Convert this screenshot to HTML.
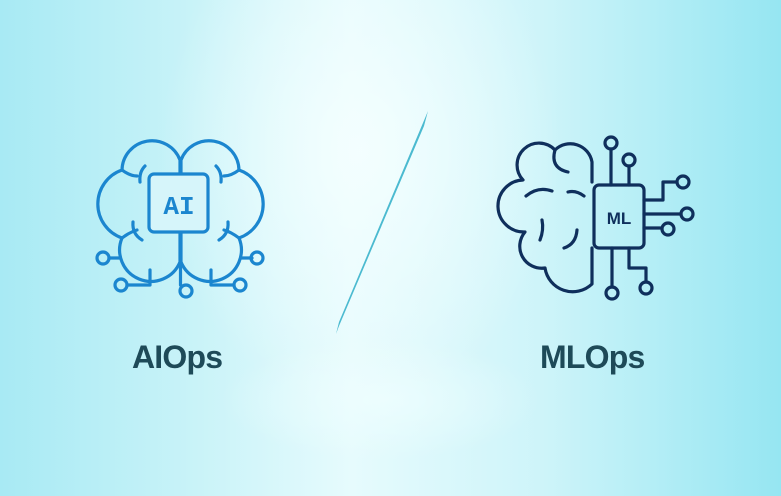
<!DOCTYPE html>
<html><head><meta charset="utf-8"><style>
html,body{margin:0;padding:0}
body{width:781px;height:496px;overflow:hidden;position:relative;
background:
radial-gradient(ellipse 200px 260px at 360px 150px,rgba(245,255,255,0.9) 0%,rgba(245,255,255,0) 100%),
radial-gradient(ellipse 160px 60px at 380px 400px,rgba(240,255,255,0.7) 0%,rgba(240,255,255,0) 100%),
linear-gradient(90deg,#a8eaf4 0%,#c9f3f8 25%,#e6fbfd 45%,#cdf4f9 70%,#96e6f2 100%);}
.lbl{position:absolute;top:339px;font:bold 32px "Liberation Sans",sans-serif;color:#1e4a58;letter-spacing:-0.8px}
</style></head><body>
<svg width="781" height="496" style="position:absolute;left:0;top:0">
<polygon points="428,111 424,126 339,326 336,334 339,322" fill="#4bbad0"/>
<!-- AI icon -->
<g fill="none" stroke="#1b86cf" stroke-width="3.2" stroke-linecap="round" stroke-linejoin="round">
<g id="half">
<path d="M180,262 A30,30 0 0 1 122,238 A36,36 0 0 1 122,170 A30,30 0 0 1 180,160 V262"/>
<path d="M145,166 Q139,172 140,182"/>
<path d="M122,170 Q130,176 137,176"/>
<path d="M122,238 Q130,232 137,230"/>
<path d="M133,222 Q132,234 142,240"/>
<path d="M120,258 H109"/>
<path d="M150,270 V285 H127"/>
</g>
<use href="#half" transform="translate(361,0) scale(-1,1)"/>
<path d="M180.5,262 V285"/>
<circle cx="103" cy="258" r="6"/><circle cx="121" cy="285" r="6"/>
<circle cx="186" cy="291" r="6"/><circle cx="240" cy="285" r="6"/><circle cx="257" cy="258" r="6"/>
<rect x="149" y="174" width="59" height="58" rx="5" fill="#d6f5fa"/>
</g>
<text x="179" y="214" text-anchor="middle" font-family="Liberation Mono,monospace" font-size="26" fill="#1b86cf" font-weight="bold">AI</text>
<!-- ML icon -->
<g fill="none" stroke="#0f2f5c" stroke-width="3.2" stroke-linecap="round" stroke-linejoin="round">
<path d="M592,182 V162 A22,22 0 0 0 555,150 A20,20 0 0 0 523,180 A24,24 0 0 0 525,232 A22,22 0 0 0 545,268 A28,28 0 0 0 592,284 V248"/>
<path d="M555,150 Q550,168 568,172"/>
<path d="M526,196 Q538,186 552,191"/>
<path d="M584,196 Q576,190 568,192"/>
<path d="M542,220 Q544,230 540,240"/>
<path d="M577,230 Q576,244 564,248"/>
<rect x="594" y="185" width="50" height="63" rx="5"/>
<path d="M611,149 V185 M629,166 V185"/>
<path d="M644,200 H663 V182 H677 M644,214 H681 M644,228 H662"/>
<path d="M612,248 V287 M629,248 V268 H646 V282"/>
<circle cx="611" cy="143" r="6"/><circle cx="629" cy="160" r="6"/>
<circle cx="683" cy="182" r="6"/><circle cx="687" cy="214" r="6"/><circle cx="668" cy="229" r="6"/>
<circle cx="612" cy="293" r="6"/><circle cx="646" cy="288" r="6"/>
</g>
<text x="619" y="224" text-anchor="middle" font-family="Liberation Sans,sans-serif" font-size="17" font-weight="bold" fill="#0f2f5c">ML</text>
</svg>
<div class="lbl" style="left:132px">AIOps</div>
<div class="lbl" style="left:540px">MLOps</div>
</body></html>
